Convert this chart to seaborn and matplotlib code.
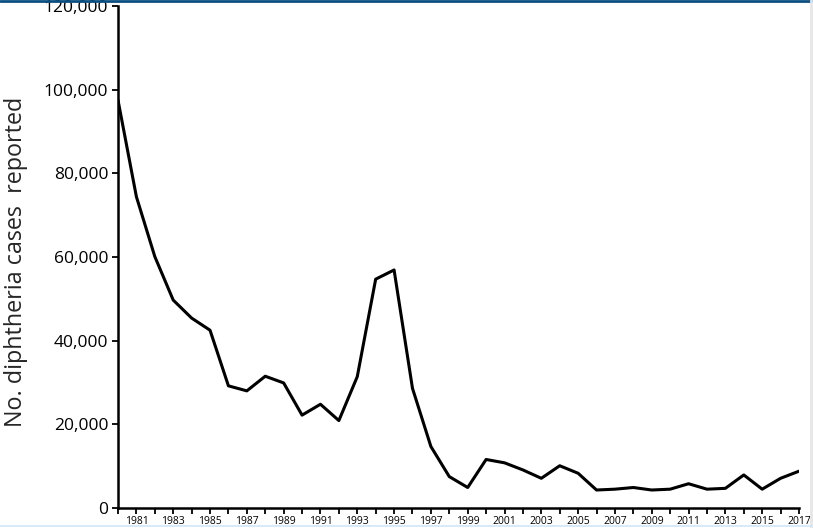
import matplotlib
matplotlib.use("Agg")
import matplotlib.pyplot as plt
import seaborn as sns
import pandas as pd
from matplotlib.lines import Line2D

years = list(range(1980, 2018))
cases = [97500, 74400, 60100, 49700, 45400, 42500, 29200, 28000, 31500, 29900,
         22200, 24800, 20900, 31400, 54700, 56900, 28600, 14700, 7500, 4900,
         11600, 10800, 9100, 7100, 10100, 8300, 4300, 4500, 4900, 4300,
         4500, 5800, 4500, 4700, 7900, 4500, 7100, 8800]
y_ticks = [0, 20000, 40000, 60000, 80000, 100000, 120000]
y_tick_labels = ["0", "20,000", "40,000", "60,000", "80,000", "100,000", "120,000"]
x_tick_labels = [str(y) if y % 2 == 1 else "" for y in years]
y_label = "No. diphtheria cases  reported"

df = pd.DataFrame({"year": years, "cases": cases})

sns.set_style("ticks")
plt.rcParams["font.family"] = ["Open Sans", "DejaVu Sans"]

fig = plt.figure(figsize=(8.13, 5.28), dpi=100)
ax = fig.add_axes([118/813, 1 - 508/528, (799 - 118)/813, (508 - 6)/528])

sns.lineplot(data=df, x="year", y="cases", ax=ax, color="black", linewidth=2.2)

ax.set_xlim(1980, 2017)
ax.set_ylim(0, 120000)
ax.set_xticks(years)
ax.set_xticklabels(x_tick_labels, fontsize=7.5)
ax.set_yticks(y_ticks)
ax.set_yticklabels(y_tick_labels, fontsize=12.5)
ax.set_xlabel("")
ax.set_ylabel(y_label, fontsize=16.8, labelpad=11)
ax.yaxis.label.set_y(0.49)

for s in ["top", "right"]:
    ax.spines[s].set_visible(False)
for s in ["left", "bottom"]:
    ax.spines[s].set_linewidth(1.8)
    ax.spines[s].set_color("black")
ax.tick_params(axis="both", direction="out", length=4, width=1.3, colors="black")
ax.tick_params(axis="x", pad=2)
ax.tick_params(axis="y", pad=3)

# frame artifacts from the reference screenshot
fig.add_artist(Line2D([0, 1], [0.999, 0.999], transform=fig.transFigure, color="#0b4f82", linewidth=2))
fig.add_artist(Line2D([0.998, 0.998], [0, 1], transform=fig.transFigure, color="#e6e6e6", linewidth=2))
fig.add_artist(Line2D([0, 1], [0.003, 0.003], transform=fig.transFigure, color="#cfe8f5", linewidth=1.2))

fig.savefig("out.png", dpi=100)
